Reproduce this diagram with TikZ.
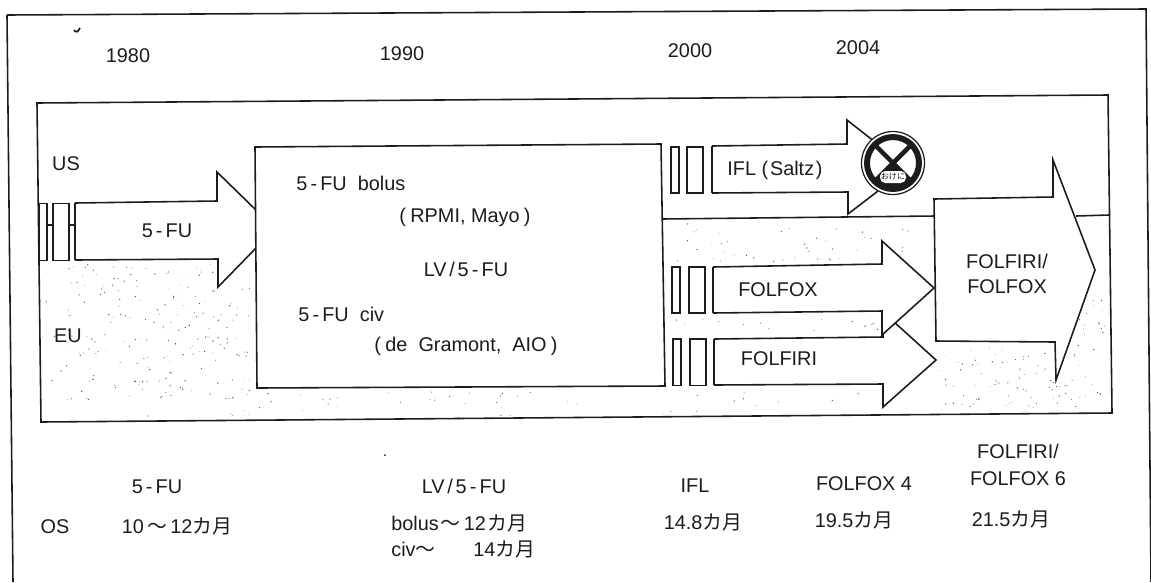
\documentclass[tikz,border=0pt]{standalone}
\usepackage{fontspec}
\setmainfont{Liberation Sans}
\newfontfamily\cjk{Noto Sans CJK JP}
\usetikzlibrary{calc}

\definecolor{ink}{HTML}{1C1C1C}
\newcommand{\fiveFU}{5\kern1.8pt-\kern1.8ptFU}
\newcommand{\lvFU}{LV\kern1.6pt/\kern1.6pt\fiveFU}
\newcommand{\kagetsu}{{\cjk カ月}}
\newcommand{\kara}{{\cjk 〜}}
\newcommand{\stipple}[5]{%
  \foreach \k in {1,...,#5} {
    \pgfmathsetmacro{\dotx}{#1+(#2-#1)*rnd}
    \pgfmathsetmacro{\doty}{#3+(#4-#3)*rnd}
    \pgfmathsetmacro{\dotr}{0.3+0.45*rnd}
    \fill[ink!75] (\dotx,\doty) circle (\dotr);
  }
}
\tikzset{
  lbl/.style={text=ink,font=\fontsize{11.3}{13.5}\selectfont,inner sep=0pt},
  lineink/.style={draw=ink,line width=0.9pt,line join=miter},
  arrowbody/.style={lineink,fill=white},
  tailbar/.style={lineink,fill=white,inner sep=0pt,minimum height=26.5pt},
}

\begin{document}
\begin{tikzpicture}[x=0.02cm,y=-0.02cm]
\useasboundingbox (0,0) rectangle (1151,582);
\pgfmathsetseed{4217}

% frames
\draw[lineink] (7,15) -- (1146,9) -- (1151,582);
\draw[lineink] (7,15) -- (13,582);
\draw[lineink] (37,103) -- (1108,95) -- (1112,413) -- (41,422) -- cycle;
\draw[lineink] (662,219) -- (935,216);
\draw[lineink] (1076,216) -- (1109,215);

% dots
\stipple{46}{250}{264}{400}{200}
\stipple{60}{660}{392}{418}{40}
\stipple{668}{930}{222}{262}{45}
\stipple{668}{880}{316}{332}{14}
\stipple{670}{880}{390}{412}{10}
\stipple{940}{1105}{348}{408}{90}
\stipple{1078}{1105}{300}{348}{16}
\fill[ink] (385,455) circle (1);
\draw[ink,line width=1pt] (74,30) .. controls (76,33) and (78,32) .. (80,28);

% arrows
\draw[arrowbody] (75,203) -- (217,201) -- (217,172) -- (258,212) -- (258,246) -- (218,287) -- (218,259) -- (75,260);
\draw[arrowbody] (255,147) -- (661,144) -- (665,386) -- (257,388) -- cycle;
\draw[arrowbody] (712,146) -- (847,144) -- (847,120) -- (908,168) -- (848,214) -- (848,192) -- (712,193);
\draw[arrowbody] (714,339) -- (883,337) -- (883,312) -- (936,360) -- (883,407) -- (883,384) -- (714,385);
\draw[arrowbody] (713,267) -- (882,264) -- (882,241) -- (934,288) -- (882,335) -- (882,311) -- (713,313);
\draw[arrowbody] (934,199) -- (1053,197) -- (1053,160) -- (1095,270) -- (1056,380) -- (1055,342) -- (936,341) -- cycle;

% bars
\node[tailbar,minimum height=32.3pt,minimum width=4.5pt] (barFUa) at (43,232) {};
\node[tailbar,minimum height=32.3pt,minimum width=9pt] (barFUb) at (61,232) {};
\coordinate (tailFU) at (75,225);
\draw[lineink] (barFUa.east |- 0,225) -- (barFUb.west |- 0,225);
\draw[lineink] (barFUb.east |- 0,225) -- (tailFU);
\draw[lineink] (tailFU) -- (75,203);
\draw[lineink] (tailFU) -- (75,260);
\node[tailbar,minimum width=4.5pt] (barIFLa) at (675,170) {};
\node[tailbar,minimum width=9pt] (barIFLb) at (695,170) {};
\draw[lineink] (712,146) -- (712,193);
\node[tailbar,minimum width=4.5pt] (barOXa) at (676,290) {};
\node[tailbar,minimum width=9pt] (barOXb) at (697,290) {};
\draw[lineink] (713,267) -- (713,313);
\node[tailbar,minimum width=4.5pt] (barIRIa) at (677,362) {};
\node[tailbar,minimum width=9pt] (barIRIb) at (698,362) {};
\draw[lineink] (714,339) -- (714,385);

% stop sign
\fill[white] (893,163) circle (32);
\draw[ink,line width=0.7pt] (893,163) circle (31.5);
\draw[ink,line width=3.4pt] (893,163) circle (26);
\begin{scope}
\clip (893,163) circle (26);
\draw[ink,line width=2.6pt] (870,140) -- (916,186);
\draw[ink,line width=2.6pt] (916,140) -- (870,186);
\fill[ink] (893,163) -- (870,186) -- (870,195) -- (916,195) -- (916,186) -- cycle;
\fill[white,rounded corners=3pt] (880,171) rectangle (906,183);
\end{scope}
\node[inner sep=0pt,text=ink,font=\cjk\fontsize{4.6}{5}\selectfont] (stopword) at (893,177) {おけに};

% labels
\node[lbl] (y1980) at (128,56) {1980};
\node[lbl] (y1990) at (402,54) {1990};
\node[lbl] (y2000) at (690,51) {2000};
\node[lbl] (y2004) at (858,48) {2004};
\node[lbl] (us) at (66,164) {US};
\node[lbl] (eu) at (68,336) {EU};
\node[lbl] (fuArrow) at (167,231) {\fiveFU};
\node[lbl,anchor=west] (bolus) at (296,183) {\fiveFU\ \ bolus};
\node[lbl] (rpmi) at (465,217) {(\kern2.5pt RPMI, Mayo\kern2.5pt)};
\node[lbl] (lvfu) at (466,269) {\lvFU};
\node[lbl,anchor=west] (civ) at (298,314) {\fiveFU\ \ civ};
\node[lbl] (gramont) at (466,346) {(\kern2.5pt de\ \ Gramont,\ \ AIO\kern2.5pt)};
\node[lbl] (ifl) at (775,170) {IFL (\kern1pt Saltz\kern1pt)};
\node[lbl] (folfox) at (778,290) {FOLFOX};
\node[lbl] (folfiri) at (779,359) {FOLFIRI};
\node[lbl,align=center] (combo) at (1007,274) {FOLFIRI/\\[1pt]FOLFOX};

\node[lbl] (fuOut) at (157,487) {\fiveFU};
\node[lbl] (os) at (55,527) {OS};
\node[lbl] (fuOS) at (177,526) {10\,\kara\,12\kagetsu};
\node[lbl] (lvOut) at (464,486) {\lvFU};
\node[lbl,anchor=west] (bolusOS) at (391,523) {bolus\kern1pt\kara\kern2pt12\kern1pt\kagetsu};
\node[lbl,anchor=west] (civOS) at (391,549) {civ\kara};
\node[lbl,anchor=west] (civMonths) at (473,549) {14\kagetsu};
\node[lbl] (iflOut) at (695,486) {IFL};
\node[lbl] (iflOS) at (703,522) {14.8\kagetsu};
\node[lbl] (oxOut) at (864,484) {FOLFOX 4};
\node[lbl] (oxOS) at (854,520) {19.5\kagetsu};
\node[lbl,align=center] (comboOut) at (1018,465) {FOLFIRI/\\[1.5pt]FOLFOX 6};
\node[lbl] (comboOS) at (1011,519) {21.5\kagetsu};
\end{tikzpicture}
\end{document}
